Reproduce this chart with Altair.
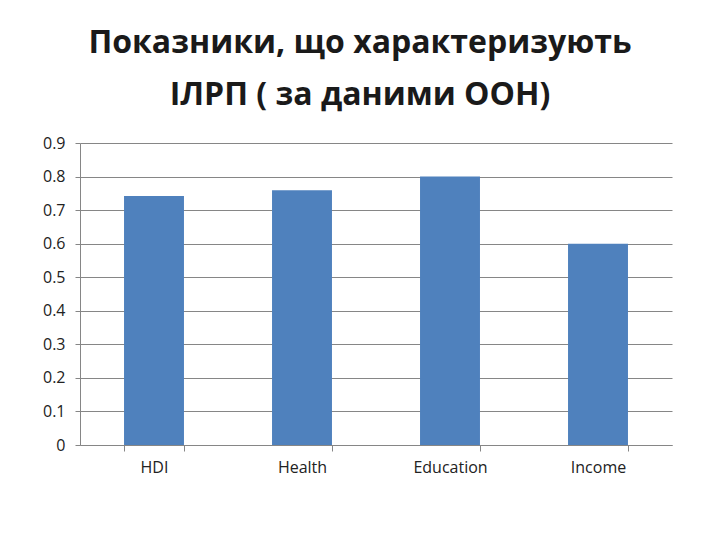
import altair as alt
import pandas as pd

categories = ["HDI", "Health", "Education", "Income"]
values = [0.742, 0.759, 0.80, 0.60]
title_lines = ["Показники, що характеризують", "ІЛРП ( за даними ООН)"]

df = pd.DataFrame({"cat": categories, "val": values})

font = "Open Sans"

chart = alt.Chart(df).mark_bar(color="#4F81BD").encode(
    x=alt.X("cat:N", sort=categories, title=None,
            scale=alt.Scale(paddingInner=0.595, paddingOuter=0.2975),
            axis=alt.Axis(labelAngle=0, tickBand="extent", labelFont=font,
                          labelFontSize=16, labelColor="#222222", labelPadding=8,
                          domainColor="#868686", tickColor="#868686", tickSize=6,
                          grid=False)),
    y=alt.Y("val:Q", title=None,
            scale=alt.Scale(domain=[0, 0.9], nice=False),
            axis=alt.Axis(values=[0, 0.1, 0.2, 0.3, 0.4, 0.5, 0.6, 0.7, 0.8, 0.9],
                          format=".1~f", labelFont=font, labelFontSize=16,
                          labelColor="#222222", labelPadding=10,
                          domainColor="#868686", tickColor="#868686", tickSize=5,
                          gridColor="#868686", gridWidth=1)),
).properties(
    width=592, height=302,
    title=alt.TitleParams(title_lines, font=font, fontSize=32, fontWeight="bold",
                          color="#1a1a1a", anchor="middle", dx=-16, offset=23,
                          lineHeight=52),
    autosize=alt.AutoSizeParams(type="none"),
    padding={"left": 72, "top": 135, "right": 40, "bottom": 60},
).configure_view(stroke=None)

chart.save("out.html", embed_options={"renderer": "svg", "actions": False})
